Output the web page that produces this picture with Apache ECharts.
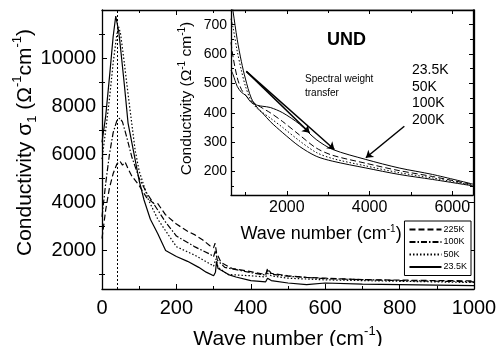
<!DOCTYPE html>
<html><head><meta charset="utf-8">
<script src="https://cdn.jsdelivr.net/npm/echarts@6/dist/echarts.min.js"></script>
<style>html,body{margin:0;padding:0;background:#fff}#c{width:496px;height:346px}</style>
</head><body><div id="c"></div>
<script>
// ---------- main panel data (wave number cm^-1, conductivity Ω^-1 cm^-1) ----------
const k225_x = [0,10,20,30,40,48,55,62,70,80,100,120,140,150,170,200,230,250,270,290,300,304,308,320,350,400,440,445,455,500,550,600,700,800,900,1000];
const k225_y = [2500,3700,4600,5200,5600,5720,5550,5680,5400,5100,4700,4200,3950,3950,3500,3100,2800,2650,2450,2200,2120,2300,1900,1500,1250,1120,1000,1250,1050,950,880,850,790,770,750,740];
const k100_x = [0,10,20,30,40,48,55,65,80,100,120,145,170,200,250,290,300,305,310,330,400,440,445,455,500,600,800,1000];
const k100_y = [3400,4800,6000,6900,7400,7500,7350,6800,5900,5000,4400,3800,3200,2600,2150,1850,1750,2000,1600,1300,1080,980,1180,1020,930,830,750,700];
const k50_x = [0,10,20,30,40,45,50,60,72,89,100,125,150,200,250,290,300,306,312,330,340,400,440,445,455,500,600,800,1000];
const k50_y = [5800,7000,8300,9800,11000,11300,11000,9800,8260,6180,5300,4100,3300,2160,1800,1450,1350,1650,1300,1100,1000,950,900,1050,950,850,780,720,670];
const k23_x = [0,10,20,30,37,45,50,60,70,84,100,113,130,150,171,200,230,260,280,300,305,308,312,330,340,345,360,400,440,445,455,500,550,600,700,800,1000];
const k23_y = [6500,7600,9200,10900,11750,11100,10400,8900,7300,6180,4900,4100,3300,2700,2000,1750,1550,1300,1100,950,1100,1550,1250,1100,1000,1050,900,750,700,850,750,650,580,650,600,580,540];
const markerWave = 41;
const mainYLabels = [2000,4000,6000,8000,10000];
const mainYMajor = [2000,4000,6000,8000,10000,12000];
const mainYMinor = [1000,3000,5000,7000,9000,11000];
const legendNames = ['225K','100K','50K','23.5K'];

// ---------- inset data ----------
const ins_x = [650,700,800,900,1000,1140,1300,1420,1600,1900,2300,2710,3110,3910,4715,5520,6500];
const ins23 = [790,745,650,575,515,450,415,398,370,332,286,252,235,212,190,173,151];
const ins50 = [720,690,610,545,490,440,412,400,382,350,305,265,244,219,196,178,153];
const ins100= [640,590,520,480,460,440,425,415,400,370,325,280,255,228,203,183,155];
const ins200= [545,530,490,470,460,435,425,422,418,400,362,309,275,241,212,190,157];
const insXLabels = [2000,4000,6000];
const insXMinor = [1000,3000,5000];
const insYMajor = [200,300,400,500,600,700];
const insYMinor = [150,250,350,450,550,650,750];
const insTempLabels = ['23.5K','50K','100K','200K'];
// arrow endpoints (inset data coordinates)
const arrowStart = [1020, 541];
const arrowTip1 = [2550, 332];
const arrowTip2 = [3150, 275];
const arrow3 = [[4840, 354],[3910, 247]];

const zip = (xs, ys) => xs.map((x,i)=>[x, ys[i]]);
const FONT = 'Liberation Sans';
const plain = v => String(v);
const chart = echarts.init(document.getElementById('c'), null, {renderer:'canvas'});

function ax(o){
  return Object.assign({
    type:'value', splitLine:{show:false}, nameMoveOverlap:false,
    axisLine:{show:true, onZero:false, lineStyle:{color:'#000', width:1.3}},
    axisTick:{show:true, inside:true, length:5, lineStyle:{color:'#000', width:1}},
    axisLabel:{show:false}
  }, o);
}
const noLine = {show:false};
const richBig = {
  sub:{fontSize:13, fontFamily:FONT, color:'#000', verticalAlign:'bottom', lineHeight:28, padding:[10,0,0,0]},
  sup:{fontSize:13, fontFamily:FONT, color:'#000', verticalAlign:'top', lineHeight:28, padding:[0,0,8,0]}
};
const richSmall = {
  sup:{fontSize:10, fontFamily:FONT, color:'#000', verticalAlign:'top', lineHeight:20, padding:[0,0,7,0]}
};

const xAxis = [
  // 0 main bottom
  ax({gridIndex:0, position:'bottom', min:0, max:1000, interval:200,
      minorTick:{show:true, splitNumber:2, length:3, lineStyle:{color:'#000'}},
      axisLabel:{show:true, formatter:plain, fontSize:20, fontFamily:FONT, color:'#000', margin:9},
      name:'Wave number (cm{sup|-1})', nameLocation:'middle', nameGap:36,
      nameTextStyle:{fontSize:21, fontFamily:FONT, color:'#000', lineHeight:28, rich:richBig}}),
  // 1 main top
  ax({gridIndex:0, position:'top', min:0, max:1000, interval:200,
      minorTick:{show:true, splitNumber:2, length:3, lineStyle:{color:'#000'}}}),
  // 2 inset bottom major
  ax({gridIndex:1, position:'bottom', min:650, max:6500, z:6,
      axisTick:{show:true, inside:true, length:4, customValues:insXLabels, lineStyle:{color:'#000'}},
      axisLabel:{show:true, customValues:insXLabels, formatter:plain, fontSize:16, fontFamily:FONT, color:'#000', margin:5},
      name:'Wave number (cm{sup|-1})', nameLocation:'middle', nameGap:29,
      nameTextStyle:{fontSize:18, fontFamily:FONT, color:'#000', lineHeight:20, padding:[0,62,0,0], rich:richSmall}}),
  // 3 inset bottom minor
  ax({gridIndex:1, position:'bottom', min:650, max:6500, z:6, axisLine:noLine,
      axisTick:{show:true, inside:true, length:3, customValues:insXMinor, lineStyle:{color:'#000'}}}),
  // 4 inset top major
  ax({gridIndex:1, position:'top', min:650, max:6500, z:6,
      axisTick:{show:true, inside:true, length:4, customValues:insXLabels, lineStyle:{color:'#000'}}}),
  // 5 inset top minor
  ax({gridIndex:1, position:'top', min:650, max:6500, z:6, axisLine:noLine,
      axisTick:{show:true, inside:true, length:3, customValues:insXMinor, lineStyle:{color:'#000'}}})
];
const yAxis = [
  // 0 main left major
  ax({gridIndex:0, position:'left', min:400, max:12000,
      axisTick:{show:true, inside:true, length:5, customValues:mainYMajor, lineStyle:{color:'#000'}},
      axisLabel:{show:true, customValues:mainYLabels, formatter:plain, fontSize:20, fontFamily:FONT, color:'#000', margin:6},
      name:'Conductivity σ{sub|1} (Ω{sup|-1}cm{sup|-1})', nameLocation:'middle', nameGap:63, nameRotate:90,
      nameTextStyle:{fontSize:21, fontFamily:FONT, color:'#000', lineHeight:28, padding:[0,0,0,14], rich:richBig}}),
  // 1 main left minor
  ax({gridIndex:0, position:'left', min:400, max:12000, axisLine:noLine,
      axisTick:{show:true, inside:true, length:3, customValues:mainYMinor, lineStyle:{color:'#000'}}}),
  // 2 main right major
  ax({gridIndex:0, position:'right', min:400, max:12000,
      axisTick:{show:true, inside:true, length:5, customValues:mainYMajor, lineStyle:{color:'#000'}}}),
  // 3 main right minor
  ax({gridIndex:0, position:'right', min:400, max:12000, axisLine:noLine,
      axisTick:{show:true, inside:true, length:3, customValues:mainYMinor, lineStyle:{color:'#000'}}}),
  // 4 inset left major
  ax({gridIndex:1, position:'left', min:120, max:750, z:6,
      axisTick:{show:true, inside:true, length:4, customValues:insYMajor, lineStyle:{color:'#000'}},
      axisLabel:{show:true, customValues:insYMajor, formatter:plain, fontSize:14, fontFamily:FONT, color:'#000', margin:4},
      name:'Conductivity (Ω{sup|-1} cm{sup|-1})', nameLocation:'middle', nameGap:34, nameRotate:90,
      nameTextStyle:{fontSize:15.5, fontFamily:FONT, color:'#000', lineHeight:20, padding:[0,0,0,8], rich:richSmall}}),
  // 5 inset left minor
  ax({gridIndex:1, position:'left', min:120, max:750, z:6, axisLine:noLine,
      axisTick:{show:true, inside:true, length:3, customValues:insYMinor, lineStyle:{color:'#000'}}}),
  // 6 inset right major
  ax({gridIndex:1, position:'right', min:120, max:750, z:6,
      axisTick:{show:true, inside:true, length:4, customValues:insYMajor, lineStyle:{color:'#000'}}}),
  // 7 inset right minor
  ax({gridIndex:1, position:'right', min:120, max:750, z:6, axisLine:noLine,
      axisTick:{show:true, inside:true, length:3, customValues:insYMinor, lineStyle:{color:'#000'}}})
];

const DASH = [6,3], DASHDOT = [6,2,1.5,2], DOT = [1.5,2];
function mainSeries(name, xs, ys, type, extra){
  return Object.assign({name, type:'line', xAxisIndex:0, yAxisIndex:0, data:zip(xs,ys),
    symbol:'none', z:2, color:'#000', lineStyle:{color:'#000', width:1.2, type}}, extra||{});
}
function insSeries(name, ys, type, extra){
  return Object.assign({name, type:'line', xAxisIndex:2, yAxisIndex:4, data:zip(ins_x,ys),
    symbol:'none', smooth:0.3, z:7, color:'#000', lineStyle:{color:'#000', width:1, type}}, extra||{});
}
const arrowLine = {color:'#000', width:1.5, type:'solid'};
const series = [
  mainSeries(legendNames[0], k225_x, k225_y, DASH, {
    markLine:{silent:true, symbol:'none', label:{show:false}, z:1,
      lineStyle:{color:'#000', width:1, type:[2,2]}, data:[{xAxis:markerWave}]}}),
  mainSeries(legendNames[1], k100_x, k100_y, DASHDOT),
  mainSeries(legendNames[2], k50_x, k50_y, DOT),
  mainSeries(legendNames[3], k23_x, k23_y, 'solid'),
  insSeries('i'+insTempLabels[0], ins23, 'solid'),
  insSeries('i'+insTempLabels[1], ins50, DOT),
  insSeries('i'+insTempLabels[2], ins100, DASH),
  insSeries('i'+insTempLabels[3], ins200, 'solid', {
    markLine:{silent:true, symbol:['none','arrow'], symbolSize:7, label:{show:false}, z:8,
      data:[
        [{coord:arrowStart, lineStyle:Object.assign({curveness:0.35}, arrowLine)}, {coord:arrowTip1}],
        [{coord:arrowStart, lineStyle:Object.assign({curveness:0.35}, arrowLine)}, {coord:arrowTip2}],
        [{coord:arrow3[0], lineStyle:Object.assign({curveness:0}, arrowLine)}, {coord:arrow3[1]}]
      ]}})
];

const option = {
  animation:false,
  backgroundColor:'#fff',
  grid:[
    {left:102, right:22, top:10, bottom:57, outerBoundsMode:'none', containLabel:false},
    {left:231, right:23, top:10, bottom:151, outerBoundsMode:'none', containLabel:false,
     show:true, backgroundColor:'#fff', borderWidth:0, z:5}
  ],
  xAxis, yAxis, series,
  legend:{data:legendNames, orient:'vertical', right:25, top:221, itemWidth:32, itemHeight:10, itemGap:3.5,
    padding:[4,4,4,4], borderColor:'#000', borderWidth:1, backgroundColor:'#fff', z:9,
    itemStyle:{opacity:0},
    textStyle:{fontSize:9, fontFamily:FONT, color:'#000', padding:[0,0,0,-3]}},
  graphic:[
    {type:'text', left:327, top:31, z:20, style:{text:'UND', fontSize:18, fontWeight:'bold', fontFamily:FONT, fill:'#000'}},
    {type:'text', left:305, top:72, z:20, style:{text:'Spectral weight\ntransfer', fontSize:10, lineHeight:14, fontFamily:FONT, fill:'#000'}},
    {type:'text', left:412, top:62, z:20, style:{text:insTempLabels.join('\n'), fontSize:14, lineHeight:16.5, fontFamily:FONT, fill:'#000'}}
  ]
};
chart.setOption(option);
</script></body></html>
